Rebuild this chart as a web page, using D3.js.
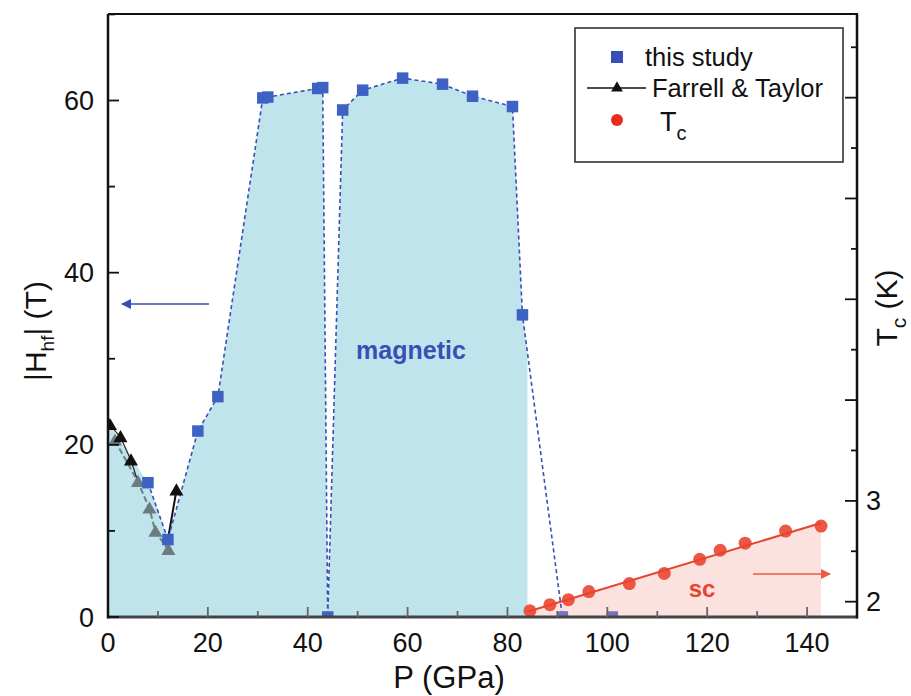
<!DOCTYPE html>
<html><head><meta charset="utf-8">
<script src="https://cdn.jsdelivr.net/npm/d3@7"></script>
<style>body{margin:0;background:#fff;}svg{display:block;font-family:"Liberation Sans",Arial,sans-serif;}</style>
</head><body>
<svg id="c" width="911" height="696"></svg>
<script>
// ---------- data ----------
const studyP = [8, 12, 18, 22, 31, 32, 42, 43, 44, 47, 51, 59, 67, 73, 81, 83, 91, 101];
const studyH = [15.6, 9.0, 21.6, 25.6, 60.3, 60.4, 61.4, 61.5, 0, 58.9, 61.2, 62.6, 61.9, 60.5, 59.3, 35.1, 0, 0];
const ftBlackP = [0.4, 2.5, 4.6, 13.7];
const ftBlackH = [22.3, 20.9, 18.2, 14.7];
const ftGreyP = [1.4, 6.0, 8.3, 9.5, 12.1];
const ftGreyH = [20.5, 15.7, 12.6, 9.9, 7.8];
const tcP = [84.5, 88.5, 92.2, 96.3, 104.4, 111.4, 118.5, 122.6, 127.6, 135.7, 142.8];
const tcT = [1.91, 1.97, 2.02, 2.10, 2.18, 2.28, 2.42, 2.51, 2.58, 2.70, 2.75];
const tcFitP = [84, 142.8];
const tcFitT = [1.90, 2.78];
const magStartP = 0, magStartH = 22.6, magEndP = 84;
const xTicks = [0, 20, 40, 60, 80, 100, 120, 140];
const yTicks = [0, 20, 40, 60];
const tTicksLabeled = [2, 3];

// ---------- layout ----------
const W = 911, H = 696;
const m = {l: 108, r: 54, t: 14, b: 79};
const svg = d3.select("#c");
const x = d3.scaleLinear().domain([0, 150]).range([m.l, W - m.r]);
const y = d3.scaleLinear().domain([0, 70.05]).range([H - m.b, m.t]);
const yT = d3.scaleLinear().domain([1.848, 7.83]).range([H - m.b, m.t]);

const defs = svg.append("defs");
defs.append("clipPath").attr("id", "plot").append("rect")
  .attr("x", m.l).attr("y", m.t).attr("width", W - m.l - m.r).attr("height", H - m.t - m.b);
defs.append("clipPath").attr("id", "mag").append("rect")
  .attr("x", m.l).attr("y", m.t).attr("width", x(magEndP) - m.l).attr("height", H - m.t - m.b);
function arrowMarker(id, col) {
  defs.append("marker").attr("id", id).attr("viewBox", "0 0 10 10").attr("refX", 9).attr("refY", 5)
    .attr("orient", "auto-start-reverse")
    .attr("markerUnits", "userSpaceOnUse").attr("markerWidth", 16).attr("markerHeight", 10)
    .append("path").attr("d", "M0,0 L10,5 L0,10 Z").attr("fill", col);
}
arrowMarker("ab", "#3a4fb5");
arrowMarker("ar", "#ea5a44");

const study = studyP.map((p, i) => ({p, h: studyH[i]}));
const magFill = [{p: magStartP, h: magStartH}].concat(study);

// magnetic fill
svg.append("path").datum(magFill).attr("clip-path", "url(#mag)")
  .attr("fill", "#bfe4ec")
  .attr("d", d3.area().x(d => x(d.p)).y0(y(0)).y1(d => y(d.h)));

// sc fill
const fit = tcFitP.map((p, i) => ({p, t: tcFitT[i]}));
svg.append("path").datum(fit).attr("fill", "#fbe2de")
  .attr("d", d3.area().x(d => x(d.p)).y0(yT(1.848)).y1(d => yT(d.t)));

const g = svg.append("g").attr("clip-path", "url(#plot)");

// Farrell & Taylor lines
const ftAll = ftBlackP.map((p, i) => ({p, h: ftBlackH[i], c: "k"}))
  .concat(ftGreyP.map((p, i) => ({p, h: ftGreyH[i], c: "g"})))
  .sort((a, b) => a.p - b.p);
const ftGrey = ftAll.filter(d => d.c === "g");
g.append("path").datum(ftGrey).attr("fill", "none").attr("stroke", "#6e7f82")
  .attr("stroke-width", 2).attr("stroke-dasharray", "6,3")
  .attr("d", d3.line().x(d => x(d.p)).y(d => y(d.h)));
// black line through the low-pressure black triangles, down to the next grey one
const blackLow = ftAll.filter(d => d.c === "k" && d.p < 10).concat([ftGrey[1]]);
g.append("path").datum(blackLow).attr("fill", "none").attr("stroke", "#222")
  .attr("stroke-width", 1.2)
  .attr("d", d3.line().x(d => x(d.p)).y(d => y(d.h)));
g.append("line").attr("x1", x(studyP[1])).attr("y1", y(studyH[1]))
  .attr("x2", x(ftBlackP[3])).attr("y2", y(ftBlackH[3])).attr("stroke", "#111").attr("stroke-width", 2);

// study dashed line
g.append("path").datum(study).attr("fill", "none").attr("stroke", "#3a4fb5")
  .attr("stroke-width", 1.6).attr("stroke-dasharray", "4,3")
  .attr("d", d3.line().x(d => x(d.p)).y(d => y(d.h)));

// triangles
const tri = d3.symbol().type(d3.symbolTriangle).size(85);
g.selectAll(".ft").data(ftAll).join("path")
  .attr("transform", d => `translate(${x(d.p)},${y(d.h) + 1})`)
  .attr("d", tri).attr("fill", d => d.c === "k" ? "#111" : "#6b7b7f");

// squares
const sq = 11.5;
g.selectAll(".sq").data(study).join("rect")
  .attr("x", d => x(d.p) - sq / 2).attr("y", d => y(d.h) - sq / 2)
  .attr("width", sq).attr("height", sq)
  .attr("fill", d => d.h === 0 && d.p > 85 ? "#7a72c0" : "#3d62c4");

// red fit line and circles
svg.append("path").datum(fit).attr("fill", "none").attr("stroke", "#e8432e").attr("stroke-width", 2)
  .attr("d", d3.line().x(d => x(d.p)).y(d => yT(d.t)));
g.selectAll(".tc").data(tcP.map((p, i) => ({p, t: tcT[i]}))).join("circle")
  .attr("cx", d => x(d.p)).attr("cy", d => yT(d.t)).attr("r", 6.5)
  .attr("fill", "#ea4a35").attr("fill-opacity", 0.92);

// ---------- axes ----------
const axCol = "#111";
const bx = svg.append("g");
bx.append("line").attr("x1", m.l).attr("x2", W - m.r).attr("y1", y(0)).attr("y2", y(0))
  .attr("stroke", "#444").attr("stroke-width", 3);
d3.range(0, 151, 10).forEach(v => {
  const major = v % 20 === 0;
  bx.append("line").attr("x1", x(v)).attr("x2", x(v)).attr("y1", y(0)).attr("y2", y(0) - (major ? 10 : 6))
    .attr("stroke", "#666").attr("stroke-width", 1.8);
});
bx.selectAll(".xl").data(xTicks).join("text").attr("x", d => x(d)).attr("y", 652)
  .attr("text-anchor", "middle").attr("font-size", 27).attr("fill", "#111").text(d => d);
svg.append("line").attr("x1", m.l).attr("x2", m.l).attr("y1", m.t).attr("y2", y(0) + 1.5)
  .attr("stroke", axCol).attr("stroke-width", 2.5);
d3.range(0, 71, 10).forEach(v => {
  const major = v % 20 === 0;
  svg.append("line").attr("x1", m.l).attr("x2", m.l + (major ? 11 : 7)).attr("y1", y(v)).attr("y2", y(v))
    .attr("stroke", axCol).attr("stroke-width", 1.8);
});
svg.selectAll(".yl").data(yTicks).join("text").attr("x", 94).attr("y", d => y(d) + 9.5)
  .attr("text-anchor", "end").attr("font-size", 27).attr("fill", "#111").text(d => d);
svg.append("line").attr("x1", m.l).attr("x2", W - m.r + 1).attr("y1", m.t).attr("y2", m.t)
  .attr("stroke", axCol).attr("stroke-width", 2.2);
svg.append("line").attr("x1", W - m.r).attr("x2", W - m.r).attr("y1", m.t).attr("y2", y(0) + 1.5)
  .attr("stroke", axCol).attr("stroke-width", 2.5);
d3.range(2, 7.9, 0.5).forEach(v => {
  const major = Number.isInteger(v);
  svg.append("line").attr("x1", W - m.r).attr("x2", W - m.r - (major ? 12 : 6)).attr("y1", yT(v)).attr("y2", yT(v))
    .attr("stroke", axCol).attr("stroke-width", 1.8);
});
svg.selectAll(".tl").data(tTicksLabeled).join("text").attr("x", 866).attr("y", d => yT(d) + 9.5)
  .attr("font-size", 27).attr("fill", "#111").text(d => d);

// axis titles
svg.append("text").attr("x", 449).attr("y", 688).attr("text-anchor", "middle")
  .attr("font-size", 31).attr("fill", "#111").text("P (GPa)");
const yt = svg.append("text").attr("transform", "translate(46,331) rotate(-90)")
  .attr("text-anchor", "middle").attr("font-size", 30).attr("fill", "#111");
yt.append("tspan").text("|H");
yt.append("tspan").attr("font-size", 19).attr("dy", 8).text("hf");
yt.append("tspan").attr("dy", -8).text("| (T)");
const tt = svg.append("text").attr("transform", "translate(897,308) rotate(-90)")
  .attr("text-anchor", "middle").attr("font-size", 30).attr("fill", "#111");
tt.append("tspan").text("T");
tt.append("tspan").attr("font-size", 21).attr("dy", 9).text("c");
tt.append("tspan").attr("dy", -9).text(" (K)");

// annotations
svg.append("text").attr("x", 411).attr("y", 359).attr("text-anchor", "middle")
  .attr("font-size", 25).attr("font-weight", "bold").attr("fill", "#3a4fb5").text("magnetic");
svg.append("text").attr("x", 702).attr("y", 597).attr("text-anchor", "middle")
  .attr("font-size", 24).attr("font-weight", "bold").attr("fill", "#e8432e").text("sc");
svg.append("line").attr("x1", 209).attr("x2", 122).attr("y1", 304).attr("y2", 304)
  .attr("stroke", "#3a4fb5").attr("stroke-width", 1.6).attr("marker-end", "url(#ab)");
svg.append("line").attr("x1", 753).attr("x2", 830).attr("y1", 574).attr("y2", 574)
  .attr("stroke", "#ea5a44").attr("stroke-width", 1.6).attr("marker-end", "url(#ar)");

// legend
const lg = svg.append("g");
lg.append("rect").attr("x", 575).attr("y", 28).attr("width", 268).attr("height", 134)
  .attr("fill", "#fff").attr("stroke", "#333").attr("stroke-width", 1.6);
lg.append("rect").attr("x", 611).attr("y", 51).attr("width", 12).attr("height", 12).attr("fill", "#3a4fb5");
lg.append("text").attr("x", 645).attr("y", 66).attr("font-size", 25.5).attr("fill", "#111").text("this study");
lg.append("line").attr("x1", 587).attr("x2", 646).attr("y1", 88).attr("y2", 88).attr("stroke", "#111").attr("stroke-width", 1.3);
lg.append("path").attr("transform", "translate(617,88)").attr("d", d3.symbol().type(d3.symbolTriangle).size(60)).attr("fill", "#111");
lg.append("text").attr("x", 652).attr("y", 97).attr("font-size", 25.5).attr("fill", "#111").text("Farrell & Taylor");
lg.append("circle").attr("cx", 617).attr("cy", 120).attr("r", 6).attr("fill", "#e82a20");
const lt = lg.append("text").attr("x", 660).attr("y", 131).attr("font-size", 27).attr("fill", "#111");
lt.append("tspan").text("T");
lt.append("tspan").attr("font-size", 20).attr("dy", 9).text("c");
</script>
</body></html>
